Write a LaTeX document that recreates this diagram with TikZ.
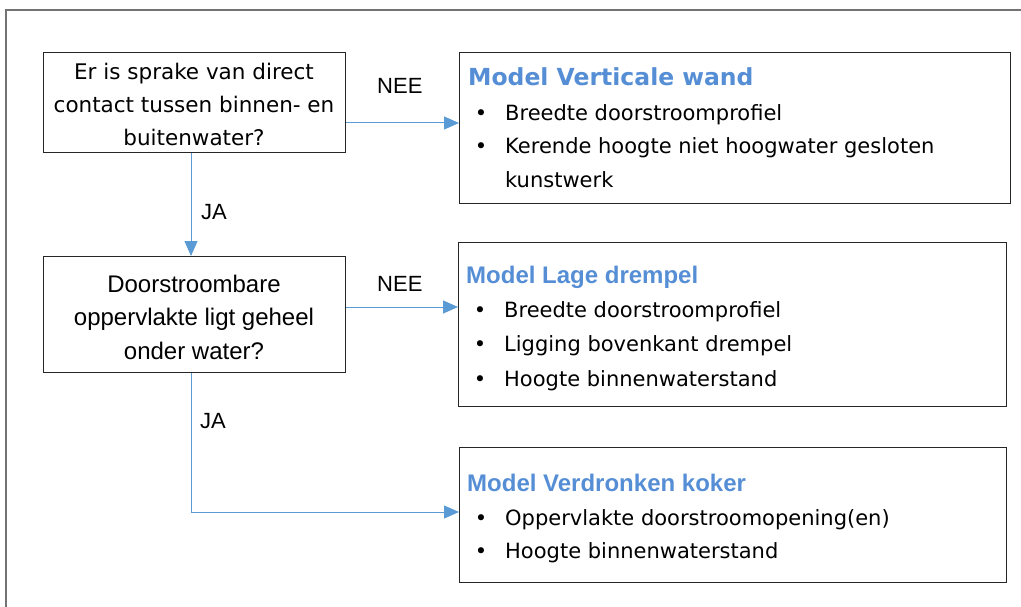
\documentclass[tikz,border=0pt]{standalone}
\usepackage{fontspec}
\setmainfont{DejaVu Sans}
\newfontfamily\arialf{Liberation Sans}
\usetikzlibrary{arrows.meta}
\definecolor{arrowblue}{RGB}{91,155,213}
\definecolor{titleblue}{RGB}{85,142,213}
\begin{document}
\begin{tikzpicture}[x=1pt,y=-1pt,
  box/.style={draw=black!85, line width=1.1pt, inner sep=0pt, anchor=north west},
  flow/.style={draw=arrowblue, line width=1pt, -{Triangle[length=15pt,width=13pt]}},
  lbl/.style={font=\arialf\fontsize{22}{26}\selectfont, inner sep=0pt, anchor=base west},
  qone/.style={font=\fontsize{21.5}{33}\selectfont, align=center, inner sep=0pt},
  qtwo/.style={font=\arialf\fontsize{24}{33.5}\selectfont, align=center, inner sep=0pt},
  titleA/.style={font=\bfseries\fontsize{23.5}{26}\selectfont, text=titleblue, inner sep=0pt, anchor=base west},
  titleB/.style={font=\arialf\bfseries\fontsize{24}{26}\selectfont, text=titleblue, inner sep=0pt, anchor=base west},
  item/.style={font=\fontsize{21}{26}\selectfont, inner sep=0pt, anchor=base west},
  bul/.style={font=\fontsize{21}{26}\selectfont, inner sep=0pt, anchor=base}
]
\useasboundingbox (0,0) rectangle (1021,607);
% outer frame (clipped at right and bottom)
\draw[black!55, line width=1.3pt] (6,620) -- (6,10) -- (1040,10);

% boxes
\node[box, minimum width=302pt, minimum height=100pt] (q1) at (43,52) {};
\node[box, minimum width=302pt, minimum height=116pt] (q2) at (43,256) {};
\node[box, minimum width=551pt, minimum height=151pt] (m1) at (459,52) {};
\node[box, minimum width=548pt, minimum height=164pt] (m2) at (458,242) {};
\node[box, minimum width=547pt, minimum height=135pt] (m3) at (459,447) {};

% question texts
\node[qone] (q1t) at (194,104) {Er is sprake van direct\\contact tussen binnen- en\\buitenwater?};
\node[qtwo] (q2t) at (194,317) {Doorstroombare\\oppervlakte ligt geheel\\onder water?};

% model 1
\node[titleA] (m1t) at (468,86) {Model Verticale wand};
\node[bul] (m1b1) at (481,121) {•};
\node[item] (m1i1) at (505,121) {Breedte doorstroomprofiel};
\node[bul] (m1b2) at (481,154) {•};
\node[item] (m1i2) at (505,154) {Kerende hoogte niet hoogwater gesloten};
\node[item] (m1i3) at (505,188) {kunstwerk};

% model 2
\node[titleB] (m2t) at (466,283) {Model Lage drempel};
\node[bul] (m2b1) at (480,317) {•};
\node[item] (m2i1) at (504,317) {Breedte doorstroomprofiel};
\node[bul] (m2b2) at (480,351) {•};
\node[item] (m2i2) at (504,351) {Ligging bovenkant drempel};
\node[bul] (m2b3) at (480,386) {•};
\node[item] (m2i3) at (504,386) {Hoogte binnenwaterstand};

% model 3
\node[titleB] (m3t) at (467,491) {Model Verdronken koker};
\node[bul] (m3b1) at (481,525) {•};
\node[item] (m3i1) at (505,525) {Oppervlakte doorstroomopening(en)};
\node[bul] (m3b2) at (481,558) {•};
\node[item] (m3i2) at (505,558) {Hoogte binnenwaterstand};

% connectors
\draw[flow] (q1.east |- 0,123) -- (m1.west |- 0,123);
\draw[flow] (q1.south -| 191,0) -- (q2.north -| 191,0);
\draw[flow] (q2.east |- 0,307) -- (m2.west |- 0,307);
\draw[flow] (q2.south -| 191,0) |- (m3.west |- 0,512);

% labels
\node[lbl] (nee1) at (377,94) {NEE};
\node[lbl] (ja1) at (201,219) {JA};
\node[lbl] (nee2) at (377,291) {NEE};
\node[lbl] (ja2) at (200,428) {JA};
\end{tikzpicture}
\end{document}
